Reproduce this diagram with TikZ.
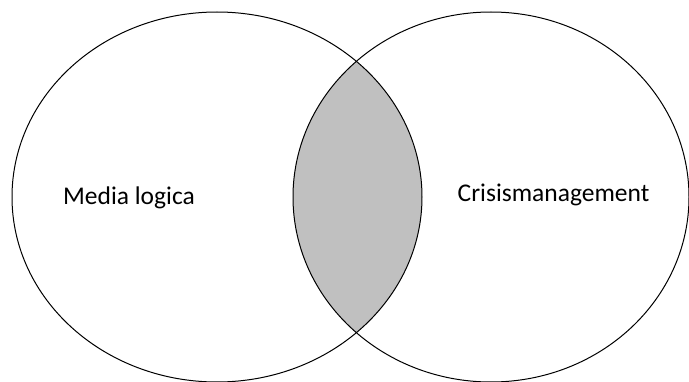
\documentclass[tikz,border=0pt]{standalone}
\usepackage{fontspec}
\setmainfont{Carlito}
\definecolor{lensgray}{RGB}{192,192,192}

\begin{document}
\begin{tikzpicture}[x=1pt,y=1pt]
        \useasboundingbox (0,0) rectangle (689,381);
        \fill[white] (0,0) rectangle (689,381);

        \begin{scope}
          \clip (217,184) ellipse [x radius=205, y radius=185];
          \fill[lensgray] (491,184) ellipse [x radius=198, y radius=185];
        \end{scope}

        \draw[line width=1pt] (217,184) ellipse [x radius=205, y radius=185];
        \draw[line width=1pt] (491,184) ellipse [x radius=198, y radius=185];

        \node[font=\fontsize{25.5}{30}\selectfont, anchor=base] (media) at (129,176) {Media logica};
        \node[font=\fontsize{25.5}{30}\selectfont, anchor=base] (crisis) at (553.5,179) {Crisismanagement};
      \end{tikzpicture}
\end{document}
